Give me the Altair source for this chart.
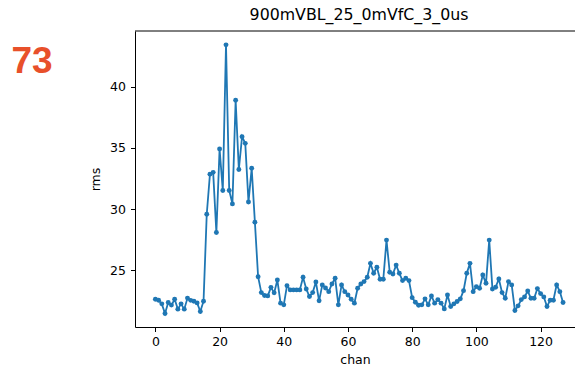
import altair as alt
import pandas as pd

chan = list(range(128))
rms = [
    22.63, 22.55, 22.25, 21.46, 22.36, 22.15, 22.63, 21.82, 22.25, 21.82,
    22.72, 22.54, 22.47, 22.33, 21.63, 22.47, 29.57, 32.85, 33.0, 28.08,
    34.91, 31.52, 43.42, 31.52, 30.42, 38.89, 33.23, 35.91, 35.37, 30.57,
    33.33, 28.93, 24.47, 23.17, 22.93, 22.9, 23.6, 23.15, 24.2, 22.31,
    22.17, 23.74, 23.39, 23.39, 23.39, 23.39, 24.42, 23.47, 22.85, 23.17,
    24.04, 22.5, 23.8, 23.55, 23.25, 23.88, 24.34, 22.17, 23.8, 23.25,
    22.98, 22.63, 22.31, 23.53, 23.88, 24.07, 24.42, 25.56, 24.75, 25.24,
    24.26, 24.26, 27.46, 24.83, 24.69, 25.42, 24.75, 24.15, 24.34, 24.15,
    22.76, 22.38, 22.14, 22.17, 22.66, 22.17, 22.9, 22.31, 22.6, 22.31,
    21.84, 22.98, 22.04, 22.25, 22.44, 22.66, 23.33, 24.75, 25.56, 23.25,
    23.66, 23.53, 24.61, 23.93, 27.46, 23.47, 23.61, 24.29, 23.17, 22.71,
    24.07, 23.8, 21.71, 22.09, 22.6, 22.82, 23.3, 22.71, 22.71, 23.5,
    23.09, 22.82, 22.04, 22.55, 22.55, 23.8, 23.25, 22.36,
]
title_text = "900mVBL_25_0mVfC_3_0us"
badge = ["73"]

df = pd.DataFrame({"chan": chan, "rms": rms})

FONT = "DejaVu Sans"
W, H = 440, 296
BLUE = "#1f77b4"

xs = alt.Scale(domain=[-6.35, -6.35 + W / 3.21], nice=False, zero=False)
ys = alt.Scale(domain=[20.36, 44.55], nice=False, zero=False)

axis_common = dict(
    domainColor="black", domainWidth=1, tickColor="black", tickWidth=1,
    tickSize=4.5, labelFont=FONT, labelFontSize=12.5, labelColor="black",
    titleFont=FONT, titleFontSize=12.5, titleFontWeight="normal",
    titleColor="black", grid=False,
)

base = alt.Chart(df).encode(
    x=alt.X("chan:Q", scale=xs,
            axis=alt.Axis(values=[0, 20, 40, 60, 80, 100, 120], title="chan",
                          labelPadding=4, titlePadding=5, **axis_common)),
    y=alt.Y("rms:Q", scale=ys,
            axis=alt.Axis(values=[25, 30, 35, 40], title="rms",
                          labelPadding=5, titlePadding=7, **axis_common)),
)

line = base.mark_line(color=BLUE, strokeWidth=1.8, clip=True)
pts = base.mark_circle(color=BLUE, size=24, opacity=1, clip=True)

top = alt.Chart(pd.DataFrame({"k": [0]})).mark_rule(color="black", strokeWidth=1).encode(
    x=alt.value(0), x2=alt.value(W), y=alt.value(0)
)

label = alt.Chart(pd.DataFrame({"t": badge})).mark_text(
    font="Liberation Sans", fontWeight="bold", fontSize=37, color="#E8502A",
    align="left", baseline="alphabetic"
).encode(x=alt.value(-123.5), y=alt.value(41.5), text="t:N")

chart = alt.layer(line, pts, top, label).properties(
    width=W, height=H,
    title=alt.TitleParams(title_text, font=FONT, fontSize=15.8, fontWeight="normal",
                          color="black", offset=7, dx=4),
    autosize=alt.AutoSizeParams(type="none"),
    padding={"left": 135, "top": 31, "right": 0, "bottom": 40},
).configure_view(stroke=None)

chart.save("out.html", embed_options={"renderer": "svg", "actions": False})
